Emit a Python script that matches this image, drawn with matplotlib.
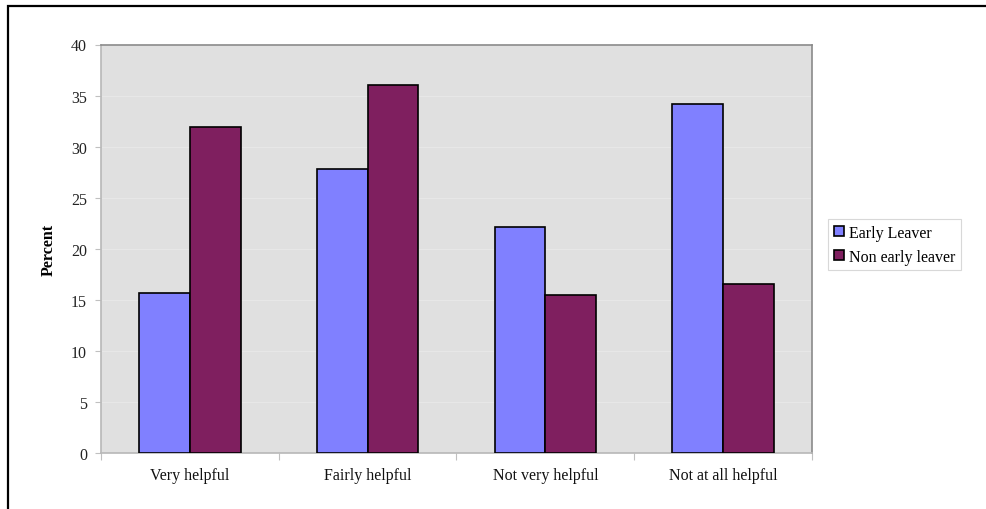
import matplotlib
matplotlib.use("Agg")
import matplotlib.pyplot as plt
from matplotlib.patches import Rectangle, Patch
from matplotlib.ticker import FixedLocator, NullFormatter
import numpy as np

categories = ["Very helpful", "Fairly helpful", "Not very helpful", "Not at all helpful"]
early_leaver = [15.7, 27.8, 22.1, 34.2]
non_early_leaver = [31.9, 36.0, 15.5, 16.5]
series_names = ["Early Leaver", "Non early leaver"]
y_ticks = [0, 5, 10, 15, 20, 25, 30, 35, 40]

plt.rcParams['font.family'] = ['Liberation Serif', 'DejaVu Serif']

W, H = 987, 510
fig = plt.figure(figsize=(W / 100, H / 100), dpi=100)

# chart frame (runs past the right and bottom edges)
fig.patches.append(Rectangle((8 / W, -0.1), 1.2, 1 - 7 / H + 0.1,
                             transform=fig.transFigure, fill=False,
                             edgecolor='black', linewidth=1.6, zorder=0))

ax_l, ax_r, ax_t, ax_b = 101, 812, 45.5, 454
ax = fig.add_axes([ax_l / W, 1 - ax_b / H, (ax_r - ax_l) / W, (ax_b - ax_t) / H])
ax.set_facecolor('#E0E0E0')

x = np.arange(len(categories))
bw = 1 / 3.5
ax.bar(x - bw / 2, early_leaver, bw, color='#8080FF', edgecolor='black',
       linewidth=1.2, zorder=3, label=series_names[0])
ax.bar(x + bw / 2, non_early_leaver, bw, color='#7F1F5F', edgecolor='black',
       linewidth=1.2, zorder=3, label=series_names[1])

ax.set_xlim(-0.5, len(categories) - 0.5)
ax.set_ylim(0, 40)
ax.set_yticks(y_ticks)
ax.set_yticklabels([str(v) for v in y_ticks], fontsize=11.5, color='#222222')
ax.yaxis.grid(True, color='#E7E7E7', linewidth=0.9, zorder=1)

# category separators as major ticks, names as minor ticks
ax.xaxis.set_major_locator(FixedLocator(np.arange(-0.5, len(categories), 1.0)))
ax.xaxis.set_major_formatter(NullFormatter())
ax.xaxis.set_minor_locator(FixedLocator(x))
ax.set_xticklabels(categories, minor=True, fontsize=11.5, color='#111111')
ax.tick_params(axis='x', which='major', length=5, color='#C0C0C0', width=0.8)
ax.tick_params(axis='x', which='minor', length=0, pad=10)
ax.tick_params(axis='y', length=4, color='#C0C0C0', width=0.8, pad=6)

for side in ('left', 'bottom'):
    ax.spines[side].set_color('#B8B8B8')
    ax.spines[side].set_linewidth(1.2)
for side in ('top', 'right'):
    ax.spines[side].set_color('#8A8A8A')
    ax.spines[side].set_linewidth(1.2)

fig.text(49 / W, 1 - 250 / H, "Percent", rotation=90, ha='center', va='center',
         fontsize=11.5, fontweight='bold')

handles = [Patch(facecolor='#8080FF', edgecolor='black', linewidth=1.2),
           Patch(facecolor='#7F1F5F', edgecolor='black', linewidth=1.2)]
leg = fig.legend(handles, series_names, loc='upper left',
                 bbox_to_anchor=(828 / W, 1 - 220 / H), fontsize=11.5,
                 frameon=True, fancybox=False, framealpha=1,
                 edgecolor='#D8D8D8', handlelength=0.65, handleheight=0.65,
                 handletextpad=0.3, borderpad=0.35, labelspacing=0.5,
                 borderaxespad=0)
leg.get_frame().set_linewidth(0.8)

fig.savefig("out.png", dpi=100)
